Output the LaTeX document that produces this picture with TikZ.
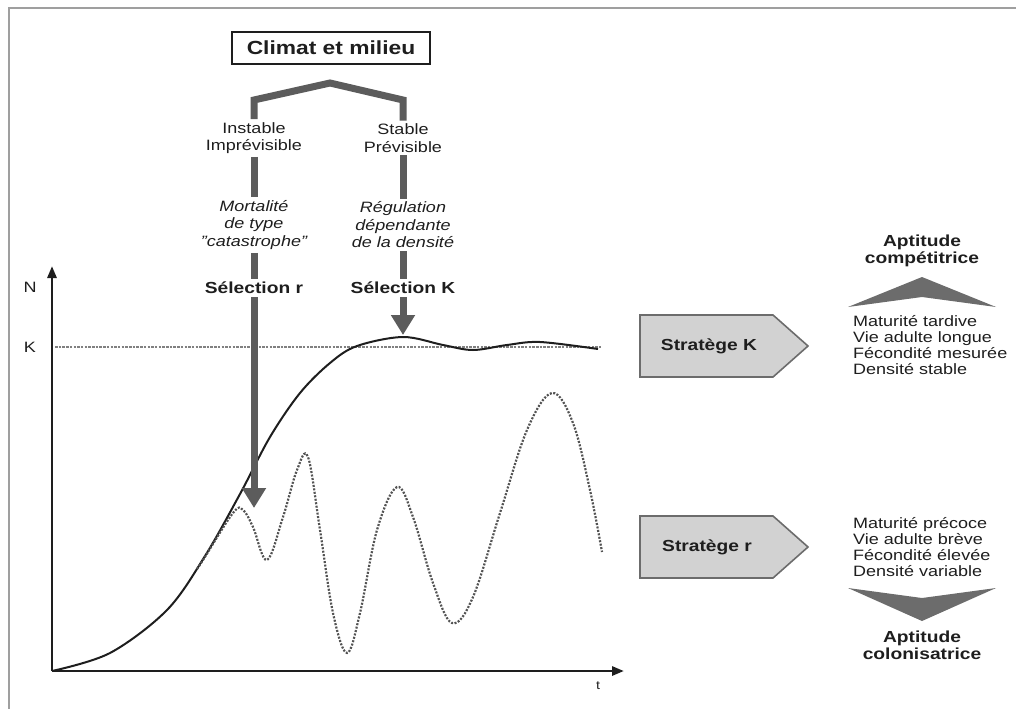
\documentclass[tikz,border=0pt]{standalone}
\usepackage{fontspec}
\setmainfont{Liberation Sans}[FakeStretch=1.2]
\usetikzlibrary{arrows.meta,positioning}
\definecolor{roofgray}{HTML}{5C5C5C}
\definecolor{boxgray}{HTML}{D2D2D2}
\definecolor{inkgray}{HTML}{1E1E1E}

\begin{document}
\begin{tikzpicture}[x=1pt,y=-1pt,
                    frame/.style={line width=2.5pt, gray!75},
                    axis/.style={line width=2.8pt, inkgray, -{Triangle[length=12pt,width=9pt]}},
                    branch/.style={line width=7pt, roofgray},
                    sel/.style={branch, -{Triangle[length=20pt,width=23pt]}},
                    plain/.style={font=\fontsize{15}{17.5}\selectfont, text=inkgray, align=center, inner sep=3pt},
                    ital/.style={plain, font=\fontsize{15}{17.5}\selectfont\itshape},
                    bold/.style={plain, font=\fontsize{16}{17}\selectfont\bfseries},
                    list/.style={plain, align=left, anchor=west, inner sep=0pt},
                    stratbox/.style={line width=1.6pt, draw=gray!85!black, fill=boxgray},
                    chevron/.style={fill=gray!85!black},
                    mysolid/.style={line width=2pt, inkgray},
                    mydash/.style={line width=1.4pt, gray, dash pattern=on 2.5pt off 1.2pt},
                    mydot/.style={line width=2.2pt, gray!65!black, dash pattern=on 2pt off 1.5pt},
                   ]

\useasboundingbox (0,0) rectangle (1016,709);

% frame
\coordinate (fTL) at (9,8);
\draw[frame] (1016,8) -- (fTL) -- (9,709);

% climate and the two branches
\node[draw=inkgray, line width=2pt, minimum width=198pt, minimum height=32pt, inner sep=0pt,
      font=\fontsize{19}{20}\selectfont\bfseries, text=inkgray] (climat) at (331,48) {Climat et milieu};

\node[plain] (instable) at (254,138) {Instable\\Imprévisible};
\node[plain] (stable) at (403,138) {Stable\\Prévisible};
\node[ital] (mortalite) at (254,225) {Mortalité\\de type\\"catastrophe"};
\node[ital] (regulation) at (403,225) {Régulation\\dépendante\\de la densité};
\node[bold] (selr) at (254,288) {Sélection r};
\node[bold] (selK) at (403,288) {Sélection K};

\coordinate (roofL) at (254,100);
\coordinate (apex) at (330,83);
\coordinate (roofR) at (403,100);
\coordinate (rtip) at (254,508);
\coordinate (Ktip) at (403,335);

\draw[branch, line join=miter] (instable.north) -- (roofL) -- (apex) -- (roofR) -- (stable.north);
\draw[branch] (instable.south) -- (mortalite.north);
\draw[branch] (stable.south) -- (regulation.north);
\draw[branch] (mortalite.south) -- (selr.north);
\draw[branch] (regulation.south) -- (selK.north);

% axes
\coordinate (O) at (52,671);
\coordinate (Ntip) at (52,266);
\coordinate (ttip) at (624,671);
\draw[axis] (O) -- (Ntip);
\draw[axis] (O) -- (ttip);
\node[plain] (N) at (30,287) {N};
\node[plain] (Klab) at (30,347) {K};
\node[plain, font=\fontsize{12}{13}\selectfont] (t) at (598,686) {t};

\coordinate (kstart) at (55,347);
\coordinate (kend) at (602,347);
\draw[mydash] (kstart) -- (kend);

% logistic growth
\draw[mysolid] plot[smooth, tension=0.55] coordinates {
  (52,671) (110,653) (167,610) (205,556) (240,494) (270,437) (300,393) (330,363)
  (357,346) (403,337) (443,345) (473,350) (507,345) (540,342) (598,349)};

% fluctuating population
\draw[mydot] plot[smooth, tension=0.6] coordinates {
  (197,569) (203,560) (233,513) (243,510) (253,527) (267,560) (283,517) (297,470)
  (308,457) (320,530) (333,613) (347,653) (360,613) (377,530) (397,487) (413,517)
  (433,583) (452,623) (473,597) (500,513) (527,430) (552,393) (573,423) (590,490)
  (602,552)};

\draw[sel] (selr.south) -- (rtip);
\draw[sel] (selK.south) -- (Ktip);

% strategies
\draw[stratbox] (640,315) -- (773,315) -- (808,346) -- (773,377) -- (640,377) -- cycle;
\node[bold] (stratK) at (709,346) {Stratège K};
\draw[stratbox] (640,516) -- (773,516) -- (808,547) -- (773,578) -- (640,578) -- cycle;
\node[bold] (stratr) at (707,547) {Stratège r};

% aptitudes
\node[bold] (compet) at (922,251) {Aptitude\\compétitrice};
\fill[chevron] (848,307) -- (922,277) -- (996,307) -- (922,297) -- cycle;
\node[list, font=\fontsize{15}{15.7}\selectfont] (listK) at (853,345)
  {Maturité tardive\\Vie adulte longue\\Fécondité mesurée\\Densité stable};

\node[list, font=\fontsize{15}{16.3}\selectfont] (listr) at (853,547)
  {Maturité précoce\\Vie adulte brève\\Fécondité élevée\\Densité variable};
\fill[chevron] (848,588) -- (922,598) -- (996,588) -- (922,621) -- cycle;
\node[bold] (colon) at (922,645) {Aptitude\\colonisatrice};

\end{tikzpicture}
\end{document}
